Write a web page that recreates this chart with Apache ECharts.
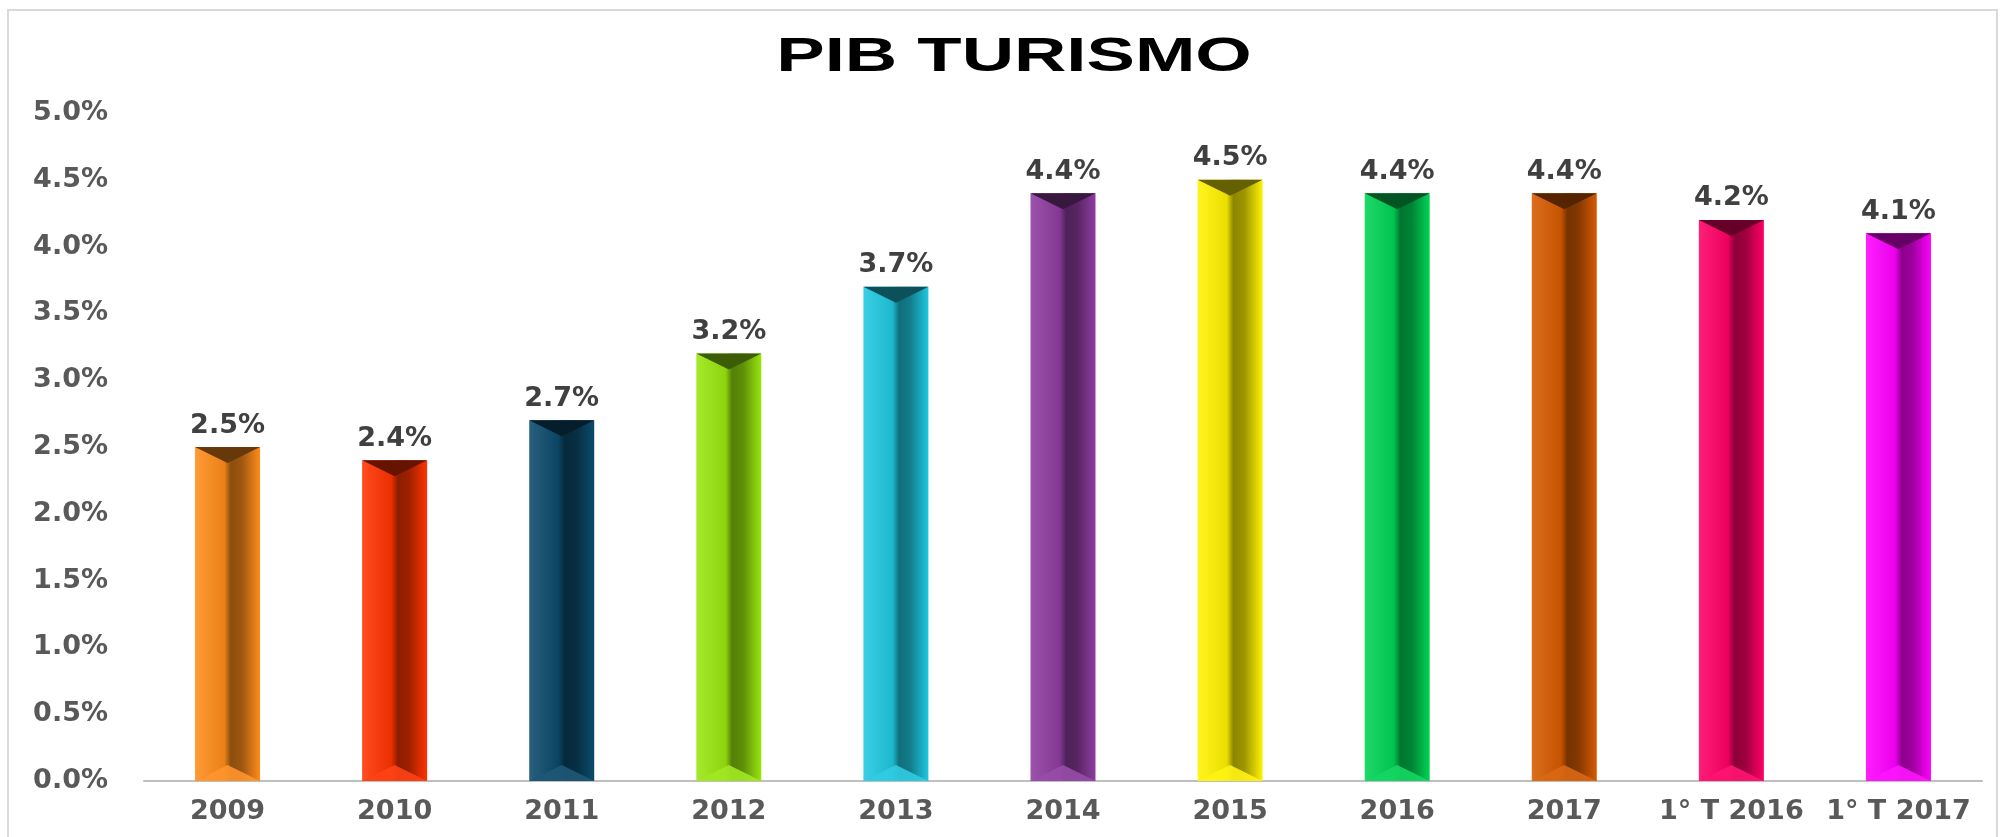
<!DOCTYPE html>
<html>
<head>
<meta charset="utf-8">
<script src="https://cdn.jsdelivr.net/npm/echarts@6/dist/echarts.min.js"></script>
<style>
  html, body { margin: 0; padding: 0; background: #fff; }
  #chart { width: 2005px; height: 837px; }
</style>
</head>
<body>
<div id="chart"></div>
<script>
const categories = ['2009', '2010', '2011', '2012', '2013', '2014', '2015', '2016', '2017', '1° T 2016', '1° T 2017'];
const values = [2.5, 2.4, 2.7, 3.2, 3.7, 4.4, 4.5, 4.4, 4.4, 4.2, 4.1];
const barColors = ['#FF8C1A', '#FF3300', '#0B4A6B', '#99E60F', '#1FC8E0', '#8E3CA0', '#FFF200', '#00D455', '#D65A00', '#FF0066', '#FF00FF'];
const titleText = 'PIB TURISMO';

// darken / lighten a hex colour, f < 1 darker, f > 1 lighter
function shade(hex, f) {
    let n = parseInt(hex.slice(1), 16);
    let r = (n >> 16) & 255, g = (n >> 8) & 255, b = n & 255;
    const fix = v => {
        v = f <= 1 ? v * f : v + (255 - v) * (f - 1);
        return Math.max(0, Math.min(255, Math.round(v)));
    };
    return 'rgb(' + fix(r) + ',' + fix(g) + ',' + fix(b) + ')';
}

function bevel(c) {
    return new echarts.graphic.LinearGradient(0, 0, 1, 0, [
        { offset: 0, color: shade(c, 1.12) },
        { offset: 0.45, color: shade(c, 0.92) },
        { offset: 0.55, color: shade(c, 0.55) },
        { offset: 0.72, color: shade(c, 0.62) },
        { offset: 1, color: c }
    ]);
}

const labelFont = {
    fontFamily: 'DejaVu Sans',
    fontWeight: 'bold',
    fontSize: 27
};

const chart = echarts.init(document.getElementById('chart'));

const option = {
    backgroundColor: '#fff',
    animation: false,
    graphic: [
        {
            type: 'rect',
            shape: { x: 8, y: 10, width: 1989, height: 840 },
            style: { fill: 'none', stroke: '#D9D9D9', lineWidth: 2 },
            silent: true
        },
        {
            // title, stretched sideways like the original
            type: 'text',
            x: 1014,
            y: 57,
            scaleX: 1.48,
            style: {
                text: titleText,
                font: 'bold 49px "Liberation Sans"',
                fill: '#000',
                align: 'center',
                verticalAlign: 'middle'
            },
            silent: true
        }
    ],
    grid: { left: 144, right: 23, top: 113, bottom: 56 },
    xAxis: {
        type: 'category',
        data: categories,
        axisTick: { show: false },
        axisLine: { lineStyle: { color: '#BFBFBF', width: 2 } },
        axisLabel: {
            ...labelFont,
            interval: 0,
            margin: 17,
            color: '#595959'
        }
    },
    yAxis: {
        type: 'value',
        min: 0,
        max: 5,
        interval: 0.5,
        splitLine: { show: false },
        axisLine: { show: false },
        axisTick: { show: false },
        axisLabel: {
            ...labelFont,
            margin: 36,
            color: '#595959',
            formatter: v => v.toFixed(1) + '%'
        }
    },
    series: [
        {
            type: 'bar',
            barWidth: 65,
            data: values.map((v, i) => ({ value: v, itemStyle: { color: bevel(barColors[i]) } })),
            label: {
                ...labelFont,
                show: true,
                position: 'top',
                distance: 8,
                color: '#404040',
                formatter: p => p.value.toFixed(1) + '%'
            },
            z: 2
        },
        {
            // dark chevron on top of each bar
            type: 'pictorialBar',
            symbol: 'path://M0,0 L10,0 L5,3 Z',
            symbolSize: [65, 16],
            symbolPosition: 'end',
            data: values.map((v, i) => ({ value: v, itemStyle: { color: shade(barColors[i], 0.4) } })),
            silent: true,
            z: 3
        },
        {
            // lighter chevron at the foot
            type: 'pictorialBar',
            symbol: 'path://M0,3 L10,3 L5,0 Z',
            symbolSize: [65, 16],
            symbolPosition: 'start',
            data: values.map((v, i) => ({ value: v, itemStyle: { color: shade(barColors[i], 1.08), opacity: 0.9 } })),
            silent: true,
            z: 3
        }
    ]
};

chart.setOption(option);
</script>
</body>
</html>
